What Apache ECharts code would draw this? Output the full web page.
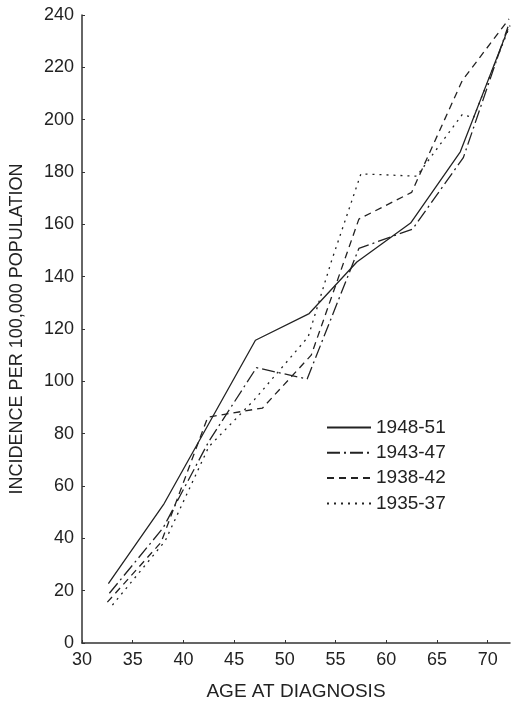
<!DOCTYPE html>
<html>
<head>
<meta charset="utf-8">
<script src="https://cdn.jsdelivr.net/npm/echarts@6/dist/echarts.min.js"></script>
<style>
  html, body { margin: 0; padding: 0; background: #fff; }
  #main { width: 511px; height: 706px; }
</style>
</head>
<body>
<div id="main"></div>
<script>
// age at diagnosis vs incidence per 100,000
const seriesNames = ['1948-51', '1943-47', '1938-42', '1935-37'];

const age4851 = [32.6, 38.1, 47.1, 52.4, 57.1, 62.4, 67.3, 72.0];
const inc4851 = [22.7, 53.3, 115.7, 125.9, 145.6, 160.5, 187.7, 234.6];

const age4347 = [32.7, 38.0, 42.5, 47.2, 52.2, 57.3, 62.6, 67.6, 72.0];
const inc4347 = [19.0, 44.0, 77.0, 105.2, 100.9, 150.8, 158.2, 185.5, 235.5];

const age3842 = [32.5, 37.8, 42.4, 47.8, 52.6, 57.3, 62.5, 67.5, 72.1];
const inc3842 = [15.6, 38.5, 86.3, 89.8, 110.0, 162.0, 172.2, 215.0, 238.5];

const age3537 = [33.0, 38.2, 42.5, 47.0, 52.3, 54.6, 57.5, 63.0, 67.5, 68.6, 72.2];
const inc3537 = [14.5, 39.0, 75.0, 93.0, 117.0, 146.0, 179.3, 178.4, 202.0, 200.7, 236.0];

const xTicks = [30, 35, 40, 45, 50, 55, 60, 65, 70];
const yTicks = [0, 20, 40, 60, 80, 100, 120, 140, 160, 180, 200, 220, 240];

const font = '"Liberation Sans", Arial, sans-serif';
const ink = '#222';

function pairs(xs, ys) {
    return xs.map((x, i) => [x, ys[i]]);
}

const dashTypes = ['solid', [13, 4, 2, 4], [7, 5], [2, 5]];
const allData = [
    pairs(age4851, inc4851),
    pairs(age4347, inc4347),
    pairs(age3842, inc3842),
    pairs(age3537, inc3537)
];

let myChart = echarts.init(document.getElementById('main'));

let option = {
    animation: false,
    backgroundColor: '#fff',
    grid: {
        left: 80,
        right: 1,
        top: 15,
        bottom: 60
    },
    legend: {
        orient: 'vertical',
        left: 321,
        top: 413,
        itemWidth: 44,
        itemHeight: 19,
        itemGap: 6.3,
        itemStyle: { opacity: 0 },   // line only, no circle
        textStyle: { fontFamily: font, fontSize: 19, color: ink },
        data: seriesNames
    },
    xAxis: {
        type: 'value',
        min: xTicks[0],
        max: 72.2,
        interval: 5,
        name: 'AGE AT DIAGNOSIS',
        nameLocation: 'middle',
        nameGap: 39,
        nameTextStyle: { fontFamily: font, fontSize: 19, color: ink },
        axisLine: { lineStyle: { color: '#333', width: 1.5 } },
        axisTick: { inside: true, length: 3, lineStyle: { color: '#333' } },
        axisLabel: {
            fontFamily: font, fontSize: 18, color: ink, margin: 8,
            showMaxLabel: false,
            formatter: v => (xTicks.indexOf(v) >= 0 ? String(v) : '')
        },
        splitLine: { show: false }
    },
    yAxis: {
        type: 'value',
        min: yTicks[0],
        max: yTicks[yTicks.length - 1],
        interval: 20,
        name: 'INCIDENCE PER 100,000 POPULATION',
        nameLocation: 'middle',
        nameGap: 56,
        nameTextStyle: { fontFamily: font, fontSize: 18, color: ink },
        axisLine: { show: true, lineStyle: { color: '#333', width: 1.5 } },
        axisTick: { show: true, inside: true, length: 3, lineStyle: { color: '#333' } },
        axisLabel: { fontFamily: font, fontSize: 18, color: ink, margin: 8 },
        splitLine: { show: false }
    },
    series: seriesNames.map((name, i) => ({
        name: name,
        type: 'line',
        symbol: 'none',
        data: allData[i],
        color: ink,
        lineStyle: { color: ink, width: 1.3, type: dashTypes[i] }
    }))
};

option && myChart.setOption(option);
window.addEventListener('resize', myChart.resize);
</script>
</body>
</html>
